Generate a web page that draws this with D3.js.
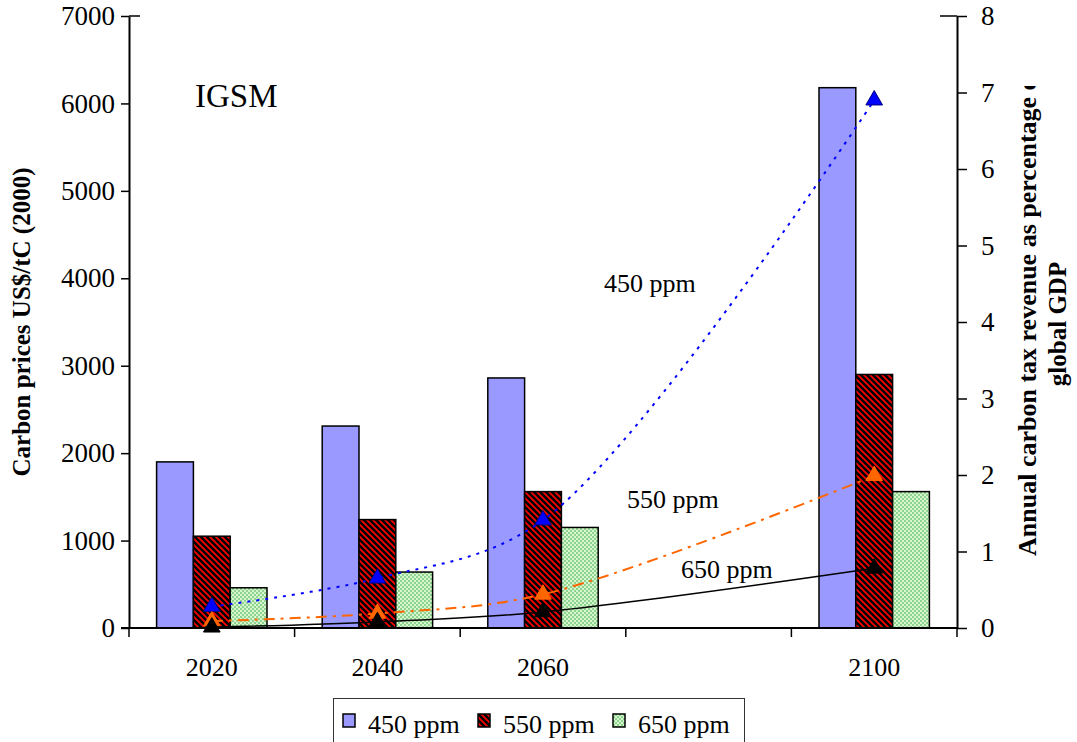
<!DOCTYPE html>
<html>
<head>
<meta charset="utf-8">
<script src="https://cdn.jsdelivr.net/npm/d3@7"></script>
<style>
  body { margin: 0; background: #fff; }
  text { font-family: "Liberation Serif", "Times New Roman", serif; }
</style>
</head>
<body>
<div id="chart"></div>
<script>
// categories (2080 slot is kept empty, as in the original)
var years = ["2020", "2040", "2060", "2080", "2100"];
var yearLabels = ["2020", "2040", "2060", "", "2100"];
var series = ["450 ppm", "550 ppm", "650 ppm"];

// carbon prices, US$/tC (left axis)
var price450 = [1900, 2310, 2860, null, 6180];
var price550 = [1050, 1240, 1560, null, 2900];
var price650 = [460, 640, 1150, null, 1560];

// carbon tax revenue, % of global GDP (right axis)
var rev450 = [0.28, 0.65, 1.41, null, 6.9];
var rev550 = [0.09, 0.19, 0.44, null, 1.99];
var rev650 = [0.01, 0.08, 0.21, null, 0.78];

var leftTicks = [0, 1000, 2000, 3000, 4000, 5000, 6000, 7000];
var rightTicks = [0, 1, 2, 3, 4, 5, 6, 7, 8];

var width = 1077, height = 742;
var plot = {left: 129, right: 957, top: 16, bottom: 628};
var serif = "'Liberation Serif', 'Times New Roman', serif";

var svg = d3.select("#chart").append("svg")
    .attr("width", width)
    .attr("height", height);

var defs = svg.append("defs");

// red with black diagonal stripes
var hatch = defs.append("pattern")
    .attr("id", "hatch")
    .attr("patternUnits", "userSpaceOnUse")
    .attr("width", 6).attr("height", 6);
hatch.append("rect").attr("width", 6).attr("height", 6).attr("fill", "#ff0000");
hatch.append("path")
    .attr("d", "M0,0 L6,6 M-3,3 L3,9 M3,-3 L9,3")
    .attr("stroke", "#000").attr("stroke-width", 2.5);

// light green with green dots
var dots = defs.append("pattern")
    .attr("id", "dots")
    .attr("patternUnits", "userSpaceOnUse")
    .attr("width", 4).attr("height", 4);
dots.append("rect").attr("width", 4).attr("height", 4).attr("fill", "#d4f7d0");
dots.append("circle").attr("cx", 1).attr("cy", 1).attr("r", 0.8).attr("fill", "#3aa63a");
dots.append("circle").attr("cx", 3).attr("cy", 3).attr("r", 0.8).attr("fill", "#3aa63a");

var fills = ["#9999ff", "url(#hatch)", "url(#dots)"];
var lineColors = ["#0000ff", "#ff6600", "#000000"];
var markerStroke = ["#000080", "#ff6600", "#000000"];
var dashes = ["3,6", "11,6,3,6", null];
var lineWidths = [2, 2, 1.5];

var x = d3.scaleBand().domain(years).range([plot.left, plot.right]).padding(0);
var bw = x.bandwidth();
var barW = bw / 4.5;
var xSub = d3.scaleBand().domain(series).range([0.75 * barW, bw - 0.75 * barW]);

var yLeft = d3.scaleLinear().domain([0, 7000]).range([plot.bottom, plot.top]);
var yRight = d3.scaleLinear().domain([0, 8]).range([plot.bottom, plot.top]);

var prices = [price450, price550, price650];
var revenues = [rev450, rev550, rev650];

// bars
prices.forEach(function(vals, si) {
  svg.append("g").selectAll("rect")
      .data(vals.map(function(v, i) { return {year: years[i], v: v}; }).filter(function(d) { return d.v != null; }))
    .enter().append("rect")
      .attr("x", function(d) { return x(d.year) + xSub(series[si]); })
      .attr("y", function(d) { return yLeft(d.v); })
      .attr("width", xSub.bandwidth())
      .attr("height", function(d) { return plot.bottom - yLeft(d.v); })
      .attr("fill", fills[si])
      .attr("stroke", "#000")
      .attr("stroke-width", 1.5);
});

// lines (smoothed, like the original)
var line = d3.line()
    .x(function(d) { return x(d.year) + bw / 2; })
    .y(function(d) { return yRight(d.v); })
    .curve(d3.curveCatmullRom.alpha(0.5));

var tri = d3.symbol().type(d3.symbolTriangle).size(120);

revenues.forEach(function(vals, si) {
  var pts = vals.map(function(v, i) { return {year: years[i], v: v}; }).filter(function(d) { return d.v != null; });
  svg.append("path")
      .datum(pts)
      .attr("d", line)
      .attr("fill", "none")
      .attr("stroke", lineColors[si])
      .attr("stroke-width", lineWidths[si])
      .attr("stroke-dasharray", dashes[si]);
  svg.append("g").selectAll("path")
      .data(pts)
    .enter().append("path")
      .attr("d", tri)
      .attr("transform", function(d) { return "translate(" + (x(d.year) + bw / 2) + "," + yRight(d.v) + ")"; })
      .attr("fill", lineColors[si])
      .attr("stroke", markerStroke[si])
      .attr("stroke-width", 1);
});

// left axis
var axL = svg.append("g")
    .attr("transform", "translate(" + plot.left + ",0)")
    .call(d3.axisLeft(yLeft).tickValues(leftTicks).tickFormat(d3.format("d"))
      .tickSize(8).tickPadding(6).tickSizeOuter(0));
// right axis
var axR = svg.append("g")
    .attr("transform", "translate(" + plot.right + ",0)")
    .call(d3.axisRight(yRight).tickValues(rightTicks).tickFormat(d3.format("d"))
      .tickSize(10).tickPadding(14).tickSizeOuter(0));

[axL, axR].forEach(function(ax) {
  ax.attr("font-family", serif);
  ax.select(".domain").attr("stroke", "#000").attr("stroke-width", 2);
  ax.selectAll(".tick line").attr("stroke", "#000").attr("stroke-width", 1.5);
  ax.selectAll(".tick text")
      .attr("font-size", 27)
      .attr("fill", "#000");
});

// small caps at the top corners
svg.append("line").attr("x1", plot.left).attr("x2", plot.left + 11)
    .attr("y1", plot.top).attr("y2", plot.top).attr("stroke", "#000").attr("stroke-width", 1.5);
svg.append("line").attr("x1", plot.right - 17).attr("x2", plot.right)
    .attr("y1", plot.top).attr("y2", plot.top).attr("stroke", "#000").attr("stroke-width", 1.5);

// bottom axis: ticks at category boundaries
var xAxis = svg.append("g");
xAxis.append("line")
    .attr("x1", plot.left - 8).attr("x2", plot.right)
    .attr("y1", plot.bottom).attr("y2", plot.bottom)
    .attr("stroke", "#000").attr("stroke-width", 2);
var bounds = years.map(function(y) { return x(y); }).concat([plot.right]);
xAxis.selectAll(".xt")
    .data(bounds)
  .enter().append("line")
    .attr("x1", function(d) { return d; }).attr("x2", function(d) { return d; })
    .attr("y1", plot.bottom).attr("y2", plot.bottom + 9)
    .attr("stroke", "#000").attr("stroke-width", 1.5);
xAxis.selectAll(".xl")
    .data(years)
  .enter().append("text")
    .attr("x", function(d) { return x(d) + bw / 2; })
    .attr("y", 676)
    .attr("text-anchor", "middle")
    .attr("font-size", 26)
    .text(function(d, i) { return yearLabels[i]; });

// axis titles
svg.append("text")
    .attr("transform", "translate(30," + ((plot.top + plot.bottom) / 2) + ") rotate(-90)")
    .attr("text-anchor", "middle")
    .attr("font-size", 25)
    .attr("font-weight", "bold")
    .text("Carbon prices US$/tC (2000)");

// first line of the right title is cut off at the top, as in the original
defs.append("clipPath").attr("id", "rclip")
  .append("rect").attr("x", 990).attr("y", 86).attr("width", 87).attr("height", 700);

svg.append("g")
    .attr("clip-path", "url(#rclip)")
  .append("text")
    .attr("transform", "translate(1036,556) rotate(-90)")
    .attr("text-anchor", "start")
    .attr("font-size", 26)
    .attr("font-weight", "bold")
    .text("Annual carbon tax revenue as percentage of");
svg.append("text")
    .attr("transform", "translate(1066," + ((plot.top + plot.bottom) / 2 + 2) + ") rotate(-90)")
    .attr("text-anchor", "middle")
    .attr("font-size", 25)
    .attr("font-weight", "bold")
    .text("global GDP");

// annotations
svg.append("text").attr("x", 195).attr("y", 107).attr("font-size", 33).text("IGSM");
svg.append("text").attr("x", 604).attr("y", 292).attr("font-size", 26).text("450 ppm");
svg.append("text").attr("x", 627).attr("y", 508).attr("font-size", 26).text("550 ppm");
svg.append("text").attr("x", 681).attr("y", 578).attr("font-size", 26).text("650 ppm");

// legend
var legend = svg.append("g");
legend.append("rect")
    .attr("x", 333.5).attr("y", 698.5).attr("width", 411).attr("height", 60)
    .attr("fill", "#fff").attr("stroke", "#333").attr("stroke-width", 1);
var item = legend.selectAll(".item")
    .data(series)
  .enter().append("g")
    .attr("transform", function(d, i) { return "translate(" + (343 + i * 135) + ",0)"; });
item.append("rect")
    .attr("x", 0).attr("y", 714).attr("width", 12).attr("height", 13)
    .attr("fill", function(d, i) { return fills[i]; })
    .attr("stroke", "#000").attr("stroke-width", 1.5);
item.append("text")
    .attr("x", 25).attr("y", 733)
    .attr("font-size", 26)
    .text(function(d) { return d; });
</script>
</body>
</html>
